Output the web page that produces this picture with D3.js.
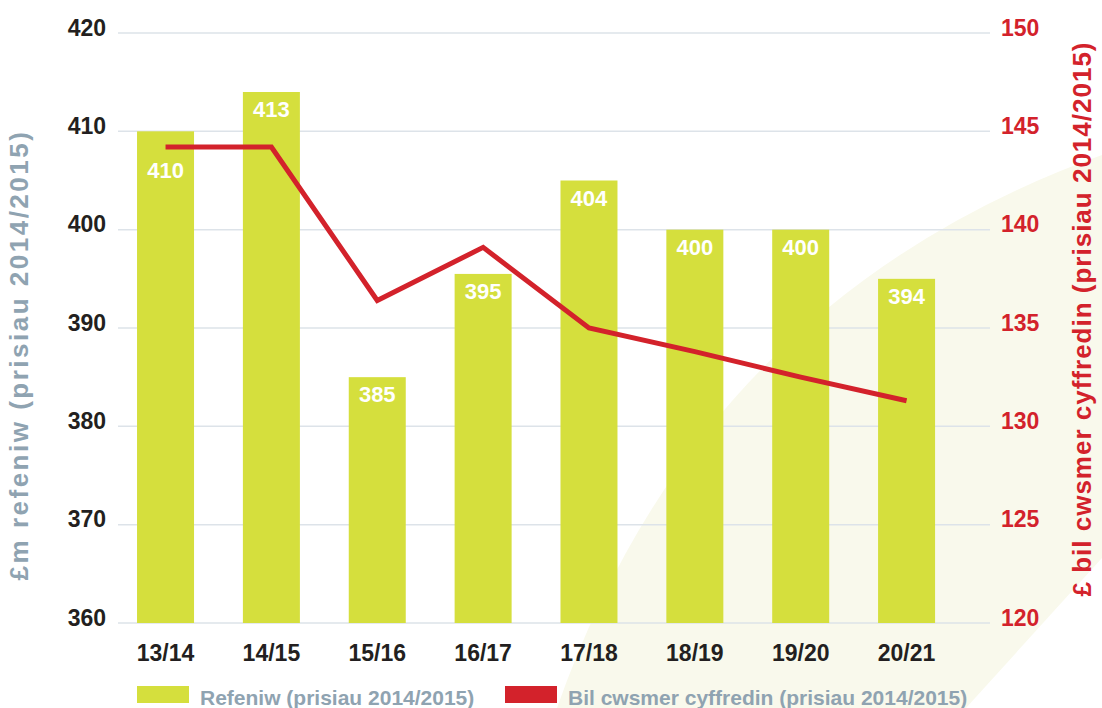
<!DOCTYPE html>
<html>
<head>
<meta charset="utf-8">
<script src="https://cdn.jsdelivr.net/npm/d3@7"></script>
<style>
  html, body { margin: 0; padding: 0; background: #ffffff; }
  svg { display: block; font-family: "Liberation Sans", Arial, Helvetica, sans-serif; }
</style>
</head>
<body>
<svg id="chart" width="1102" height="708"></svg>
<script>
// ---- data ----
const categories = ["13/14", "14/15", "15/16", "16/17", "17/18", "18/19", "19/20", "20/21"];
const revenue = [410, 414, 385, 395.5, 405, 400, 400, 395];          // £m (bar heights)
const revenueLabels = ["410", "413", "385", "395", "404", "400", "400", "394"];
const avgBill = [144.2, 144.2, 136.4, 139.1, 135.0, 133.8, 132.5, 131.3]; // £ average bill
const leftTicks = [360, 370, 380, 390, 400, 410, 420];
const rightTicks = [120, 125, 130, 135, 140, 145, 150];
const leftTitle = "£m refeniw  (prisiau 2014/2015)";
const rightTitle = "£ bil cwsmer cyffredin (prisiau 2014/2015)";
const legendLabels = ["Refeniw (prisiau 2014/2015)", "Bil cwsmer cyffredin (prisiau 2014/2015)"];

// ---- styles ----
const BAR = "#d5df3d", RED = "#d3222b", GRAY = "#8fa3b1", INK = "#231f20", GRID = "#dde3e9", CREAM = "#f9f9ec";

const svg = d3.select("#chart");
const plotL = 118, plotR = 990, plotT = 33, plotB = 623;

// decorative background leaf shape
svg.append("path")
  .attr("d", "M557,708 Q700,300 1102,155 L1102,558 L966,708 Z")
  .attr("fill", CREAM);

const x = d3.scaleBand().domain(categories).range([112.6, 959.5]).paddingInner(0.4616).paddingOuter(0.2308);
const yL = d3.scaleLinear().domain([360, 420]).range([plotB, plotT]);
const yR = d3.scaleLinear().domain([120, 150]).range([plotB, plotT]);

// gridlines
svg.append("g").selectAll("line").data(leftTicks).join("line")
  .attr("x1", plotL).attr("x2", plotR)
  .attr("y1", d => yL(d)).attr("y2", d => yL(d))
  .attr("stroke", GRID).attr("stroke-width", 1.5);

// left axis
const gL = svg.append("g").attr("transform", `translate(${plotL},0)`)
  .call(d3.axisLeft(yL).tickValues(leftTicks).tickSize(0).tickPadding(12));
gL.select(".domain").remove();
gL.selectAll("text").attr("dy", 2).attr("fill", INK)
  .style("font-size", "23px").style("font-weight", "bold");

// right axis
const gR = svg.append("g").attr("transform", `translate(${plotR},0)`)
  .call(d3.axisRight(yR).tickValues(rightTicks).tickSize(0).tickPadding(11));
gR.select(".domain").remove();
gR.selectAll("text").attr("dy", 2).attr("fill", RED)
  .style("font-size", "23px").style("font-weight", "bold");

// bottom axis
const gB = svg.append("g").attr("transform", `translate(0,${plotB})`)
  .call(d3.axisBottom(x).tickSize(0));
gB.select(".domain").remove();
gB.selectAll("text").attr("y", 38).attr("dy", 0).attr("fill", INK)
  .style("font-size", "23px").style("font-weight", "bold");

// bars
svg.append("g").selectAll("rect").data(categories).join("rect")
  .attr("x", d => x(d)).attr("width", x.bandwidth())
  .attr("y", (d, i) => yL(revenue[i]))
  .attr("height", (d, i) => yL(360) - yL(revenue[i]))
  .attr("fill", BAR);

// line
const line = d3.line()
  .x((d, i) => x(categories[i]) + x.bandwidth() / 2)
  .y(d => yR(d));
svg.append("path").datum(avgBill)
  .attr("d", line).attr("fill", "none")
  .attr("stroke", RED).attr("stroke-width", 5).attr("stroke-linejoin", "miter");

// bar value labels (moved below the line when they would overlap it)
svg.append("g").selectAll("text").data(categories).join("text")
  .attr("x", d => x(d) + x.bandwidth() / 2)
  .attr("y", (d, i) => {
    const base = yL(revenue[i]) + 25;
    const ly = yR(avgBill[i]);
    return (ly > base - 20 && ly < base + 6) ? ly + 31 : base;
  })
  .attr("text-anchor", "middle")
  .attr("fill", "#ffffff")
  .style("font-size", "22px").style("font-weight", "bold")
  .text((d, i) => revenueLabels[i]);

// axis titles
svg.append("text")
  .attr("transform", "translate(28,355) rotate(-90)")
  .attr("text-anchor", "middle").attr("fill", GRAY)
  .style("font-size", "26px").style("font-weight", "bold").style("letter-spacing", "2.5px")
  .text(leftTitle);
svg.append("text")
  .attr("transform", "translate(1091,319) rotate(-90)")
  .attr("text-anchor", "middle").attr("fill", RED)
  .style("font-size", "26px").style("font-weight", "bold").style("letter-spacing", "1px")
  .text(rightTitle);

// legend
const legendColors = [BAR, RED];
const legendX = [137, 505];
const lg = svg.append("g").selectAll("g").data(legendLabels).join("g")
  .attr("transform", (d, i) => `translate(${legendX[i]},686)`);
lg.append("rect").attr("width", 52).attr("height", 17).attr("fill", (d, i) => legendColors[i]);
lg.append("text").attr("x", 63).attr("y", 18.5).attr("fill", GRAY)
  .style("font-size", "21px").style("font-weight", "bold")
  .text(d => d);
</script>
</body>
</html>
